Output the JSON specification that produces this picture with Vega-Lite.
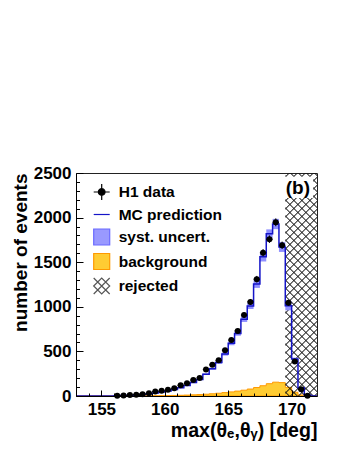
{
  "$schema": "https://vega.github.io/schema/vega-lite/v6.json",
  "width": 241,
  "height": 223,
  "autosize": {"type": "none"},
  "padding": {"left": 76, "top": 173, "right": 36, "bottom": 61},
  "background": "white",
  "config": {
    "view": {"stroke": "#222", "strokeWidth": 1},
    "font": "Liberation Sans",
    "axis": {"labelFont": "Liberation Sans", "titleFont": "Liberation Sans", "grid": false}
  },
  "datasets": {
    "bins": [
      {"lo": 153.0, "hi": 153.5, "c": 153.25, "mc": 0, "bg": 0},
      {"lo": 153.5, "hi": 154.0, "c": 153.75, "mc": 0, "bg": 0},
      {"lo": 154.0, "hi": 154.5, "c": 154.25, "mc": 0, "bg": 0},
      {"lo": 154.5, "hi": 155.0, "c": 154.75, "mc": 0, "bg": 0},
      {"lo": 155.0, "hi": 155.5, "c": 155.25, "mc": 0, "bg": 0},
      {"lo": 155.5, "hi": 156.0, "c": 155.75, "mc": 0, "bg": 0},
      {"lo": 156.0, "hi": 156.5, "c": 156.25, "data": 4, "dlo": 2, "dhi": 6, "mc": 3, "mclo": 2, "mchi": 4, "bg": 0},
      {"lo": 156.5, "hi": 157.0, "c": 156.75, "data": 7, "dlo": 4.4, "dhi": 9.6, "mc": 5, "mclo": 4, "mchi": 6, "bg": 0},
      {"lo": 157.0, "hi": 157.5, "c": 157.25, "data": 11, "dlo": 7.7, "dhi": 14.3, "mc": 8, "mclo": 7, "mchi": 9, "bg": 0},
      {"lo": 157.5, "hi": 158.0, "c": 157.75, "data": 15, "dlo": 11.1, "dhi": 18.9, "mc": 11, "mclo": 10, "mchi": 12, "bg": 0},
      {"lo": 158.0, "hi": 158.5, "c": 158.25, "data": 20, "dlo": 15.5, "dhi": 24.5, "mc": 16, "mclo": 15, "mchi": 17, "bg": 1},
      {"lo": 158.5, "hi": 159.0, "c": 158.75, "data": 32, "dlo": 26.3, "dhi": 37.7, "mc": 23, "mclo": 21, "mchi": 25, "bg": 2},
      {"lo": 159.0, "hi": 159.5, "c": 159.25, "data": 50, "dlo": 42.9, "dhi": 57.1, "mc": 33, "mclo": 31, "mchi": 35, "bg": 3},
      {"lo": 159.5, "hi": 160.0, "c": 159.75, "data": 58, "dlo": 50.4, "dhi": 65.6, "mc": 44, "mclo": 42, "mchi": 46, "bg": 4},
      {"lo": 160.0, "hi": 160.5, "c": 160.25, "data": 70, "dlo": 61.6, "dhi": 78.4, "mc": 57, "mclo": 54, "mchi": 60, "bg": 5},
      {"lo": 160.5, "hi": 161.0, "c": 160.75, "data": 86, "dlo": 76.7, "dhi": 95.3, "mc": 72, "mclo": 69, "mchi": 75, "bg": 6},
      {"lo": 161.0, "hi": 161.5, "c": 161.25, "data": 120, "dlo": 109, "dhi": 131, "mc": 92, "mclo": 88, "mchi": 96, "bg": 8},
      {"lo": 161.5, "hi": 162.0, "c": 161.75, "data": 142, "dlo": 130.1, "dhi": 153.9, "mc": 117, "mclo": 112, "mchi": 122, "bg": 10},
      {"lo": 162.0, "hi": 162.5, "c": 162.25, "data": 179, "dlo": 165.6, "dhi": 192.4, "mc": 150, "mclo": 144, "mchi": 156, "bg": 13},
      {"lo": 162.5, "hi": 163.0, "c": 162.75, "data": 203, "dlo": 188.8, "dhi": 217.2, "mc": 185, "mclo": 178, "mchi": 192, "bg": 16},
      {"lo": 163.0, "hi": 163.5, "c": 163.25, "data": 297, "dlo": 279.8, "dhi": 314.2, "mc": 245, "mclo": 236, "mchi": 254, "bg": 20},
      {"lo": 163.5, "hi": 164.0, "c": 163.75, "data": 349, "dlo": 330.3, "dhi": 367.7, "mc": 305, "mclo": 294, "mchi": 316, "bg": 25},
      {"lo": 164.0, "hi": 164.5, "c": 164.25, "data": 400, "dlo": 380, "dhi": 420, "mc": 375, "mclo": 361, "mchi": 389, "bg": 31},
      {"lo": 164.5, "hi": 165.0, "c": 164.75, "data": 514, "dlo": 491.3, "dhi": 536.7, "mc": 470, "mclo": 453, "mchi": 487, "bg": 38},
      {"lo": 165.0, "hi": 165.5, "c": 165.25, "data": 627, "dlo": 602, "dhi": 652, "mc": 590, "mclo": 569, "mchi": 611, "bg": 46},
      {"lo": 165.5, "hi": 166.0, "c": 165.75, "data": 730, "dlo": 703, "dhi": 757, "mc": 700, "mclo": 676, "mchi": 724, "bg": 55},
      {"lo": 166.0, "hi": 166.5, "c": 166.25, "data": 907, "dlo": 876.9, "dhi": 937.1, "mc": 860, "mclo": 830, "mchi": 890, "bg": 65},
      {"lo": 166.5, "hi": 167.0, "c": 166.75, "data": 1055, "dlo": 1022.5, "dhi": 1087.5, "mc": 1010, "mclo": 975, "mchi": 1045, "bg": 78},
      {"lo": 167.0, "hi": 167.5, "c": 167.25, "data": 1310, "dlo": 1273.8, "dhi": 1346.2, "mc": 1255, "mclo": 1212, "mchi": 1298, "bg": 95},
      {"lo": 167.5, "hi": 168.0, "c": 167.75, "data": 1607, "dlo": 1566.9, "dhi": 1647.1, "mc": 1561, "mclo": 1508, "mchi": 1614, "bg": 115},
      {"lo": 168.0, "hi": 168.5, "c": 168.25, "data": 1758, "dlo": 1716.1, "dhi": 1799.9, "mc": 1818, "mclo": 1768, "mchi": 1868, "bg": 138},
      {"lo": 168.5, "hi": 169.0, "c": 168.75, "data": 1947, "dlo": 1902.9, "dhi": 1991.1, "mc": 1928, "mclo": 1870, "mchi": 1986, "bg": 155},
      {"lo": 169.0, "hi": 169.5, "c": 169.25, "data": 1690, "dlo": 1648.9, "dhi": 1731.1, "mc": 1670, "mclo": 1615, "mchi": 1725, "bg": 150},
      {"lo": 169.5, "hi": 170.0, "c": 169.75, "data": 1045, "dlo": 1012.7, "dhi": 1077.3, "mc": 1011, "mclo": 960, "mchi": 1062, "bg": 97},
      {"lo": 170.0, "hi": 170.5, "c": 170.25, "data": 388, "dlo": 368.3, "dhi": 407.7, "mc": 415, "mclo": 400, "mchi": 430, "bg": 42},
      {"lo": 170.5, "hi": 171.0, "c": 170.75, "data": 75, "dlo": 66.3, "dhi": 83.7, "mc": 93, "mclo": 88, "mchi": 98, "bg": 12},
      {"lo": 171.0, "hi": 171.5, "c": 171.25, "data": 2, "dlo": 0.6, "dhi": 3.4, "mc": 10, "mclo": 8, "mchi": 12, "bg": 3},
      {"lo": 171.5, "hi": 172.0, "c": 171.75, "mc": 0, "bg": 0},
      {"lo": 172.0, "mc": 0, "bg": 0}
    ],
    "rejected": [{"from": 169.5, "to": 172}],
    "annotation": [{"label": "(b)"}],
    "legend": [
      {"entry": "H1 data"},
      {"entry": "MC prediction"},
      {"entry": "syst. uncert."},
      {"entry": "background"},
      {"entry": "rejected"}
    ]
  },
  "resolve": {"axis": {"x": "independent", "y": "independent"}},
  "layer": [
    {
      "data": {"name": "bins"},
      "mark": {"type": "area", "interpolate": "step-after", "fill": "#ffcc33", "stroke": "#ff9900", "strokeWidth": 1, "clip": true},
      "encoding": {
        "x": {"field": "lo", "type": "quantitative", "scale": {"domain": [153, 172], "nice": false, "zero": false}, "axis": null},
        "y": {"field": "bg", "type": "quantitative", "scale": {"domain": [0, 2500], "nice": false, "zero": true}, "axis": null}
      }
    },
    {
      "data": {"name": "rejected"},
      "mark": {"type": "rect", "fill": {"gradient": "linear", "x1": 0, "y1": 1, "x2": 0.1591, "y2": -0.1195, "stops": [
        {"offset": 0.0110, "color": "rgba(0,0,0,0)"}, {"offset": 0.0157, "color": "#222"}, {"offset": 0.0204, "color": "rgba(0,0,0,0)"},
        {"offset": 0.0425, "color": "rgba(0,0,0,0)"}, {"offset": 0.0472, "color": "#222"}, {"offset": 0.0519, "color": "rgba(0,0,0,0)"},
        {"offset": 0.0739, "color": "rgba(0,0,0,0)"}, {"offset": 0.0786, "color": "#222"}, {"offset": 0.0833, "color": "rgba(0,0,0,0)"},
        {"offset": 0.1053, "color": "rgba(0,0,0,0)"}, {"offset": 0.1100, "color": "#222"}, {"offset": 0.1147, "color": "rgba(0,0,0,0)"},
        {"offset": 0.1367, "color": "rgba(0,0,0,0)"}, {"offset": 0.1414, "color": "#222"}, {"offset": 0.1461, "color": "rgba(0,0,0,0)"},
        {"offset": 0.1682, "color": "rgba(0,0,0,0)"}, {"offset": 0.1729, "color": "#222"}, {"offset": 0.1776, "color": "rgba(0,0,0,0)"},
        {"offset": 0.1996, "color": "rgba(0,0,0,0)"}, {"offset": 0.2043, "color": "#222"}, {"offset": 0.2090, "color": "rgba(0,0,0,0)"},
        {"offset": 0.2310, "color": "rgba(0,0,0,0)"}, {"offset": 0.2357, "color": "#222"}, {"offset": 0.2404, "color": "rgba(0,0,0,0)"},
        {"offset": 0.2625, "color": "rgba(0,0,0,0)"}, {"offset": 0.2672, "color": "#222"}, {"offset": 0.2719, "color": "rgba(0,0,0,0)"},
        {"offset": 0.2939, "color": "rgba(0,0,0,0)"}, {"offset": 0.2986, "color": "#222"}, {"offset": 0.3033, "color": "rgba(0,0,0,0)"},
        {"offset": 0.3253, "color": "rgba(0,0,0,0)"}, {"offset": 0.3300, "color": "#222"}, {"offset": 0.3347, "color": "rgba(0,0,0,0)"},
        {"offset": 0.3568, "color": "rgba(0,0,0,0)"}, {"offset": 0.3615, "color": "#222"}, {"offset": 0.3662, "color": "rgba(0,0,0,0)"},
        {"offset": 0.3882, "color": "rgba(0,0,0,0)"}, {"offset": 0.3929, "color": "#222"}, {"offset": 0.3976, "color": "rgba(0,0,0,0)"},
        {"offset": 0.4196, "color": "rgba(0,0,0,0)"}, {"offset": 0.4243, "color": "#222"}, {"offset": 0.4290, "color": "rgba(0,0,0,0)"},
        {"offset": 0.4510, "color": "rgba(0,0,0,0)"}, {"offset": 0.4557, "color": "#222"}, {"offset": 0.4604, "color": "rgba(0,0,0,0)"},
        {"offset": 0.4825, "color": "rgba(0,0,0,0)"}, {"offset": 0.4872, "color": "#222"}, {"offset": 0.4919, "color": "rgba(0,0,0,0)"},
        {"offset": 0.5139, "color": "rgba(0,0,0,0)"}, {"offset": 0.5186, "color": "#222"}, {"offset": 0.5233, "color": "rgba(0,0,0,0)"},
        {"offset": 0.5453, "color": "rgba(0,0,0,0)"}, {"offset": 0.5500, "color": "#222"}, {"offset": 0.5547, "color": "rgba(0,0,0,0)"},
        {"offset": 0.5768, "color": "rgba(0,0,0,0)"}, {"offset": 0.5815, "color": "#222"}, {"offset": 0.5862, "color": "rgba(0,0,0,0)"},
        {"offset": 0.6082, "color": "rgba(0,0,0,0)"}, {"offset": 0.6129, "color": "#222"}, {"offset": 0.6176, "color": "rgba(0,0,0,0)"},
        {"offset": 0.6396, "color": "rgba(0,0,0,0)"}, {"offset": 0.6443, "color": "#222"}, {"offset": 0.6490, "color": "rgba(0,0,0,0)"},
        {"offset": 0.6711, "color": "rgba(0,0,0,0)"}, {"offset": 0.6758, "color": "#222"}, {"offset": 0.6805, "color": "rgba(0,0,0,0)"},
        {"offset": 0.7025, "color": "rgba(0,0,0,0)"}, {"offset": 0.7072, "color": "#222"}, {"offset": 0.7119, "color": "rgba(0,0,0,0)"},
        {"offset": 0.7339, "color": "rgba(0,0,0,0)"}, {"offset": 0.7386, "color": "#222"}, {"offset": 0.7433, "color": "rgba(0,0,0,0)"},
        {"offset": 0.7653, "color": "rgba(0,0,0,0)"}, {"offset": 0.7700, "color": "#222"}, {"offset": 0.7747, "color": "rgba(0,0,0,0)"},
        {"offset": 0.7968, "color": "rgba(0,0,0,0)"}, {"offset": 0.8015, "color": "#222"}, {"offset": 0.8062, "color": "rgba(0,0,0,0)"},
        {"offset": 0.8282, "color": "rgba(0,0,0,0)"}, {"offset": 0.8329, "color": "#222"}, {"offset": 0.8376, "color": "rgba(0,0,0,0)"},
        {"offset": 0.8596, "color": "rgba(0,0,0,0)"}, {"offset": 0.8643, "color": "#222"}, {"offset": 0.8690, "color": "rgba(0,0,0,0)"},
        {"offset": 0.8911, "color": "rgba(0,0,0,0)"}, {"offset": 0.8958, "color": "#222"}, {"offset": 0.9005, "color": "rgba(0,0,0,0)"},
        {"offset": 0.9225, "color": "rgba(0,0,0,0)"}, {"offset": 0.9272, "color": "#222"}, {"offset": 0.9319, "color": "rgba(0,0,0,0)"},
        {"offset": 0.9539, "color": "rgba(0,0,0,0)"}, {"offset": 0.9586, "color": "#222"}, {"offset": 0.9633, "color": "rgba(0,0,0,0)"},
        {"offset": 0.9854, "color": "rgba(0,0,0,0)"}, {"offset": 0.9901, "color": "#222"}, {"offset": 0.9948, "color": "rgba(0,0,0,0)"}
      ]}},
      "encoding": {
        "x": {"field": "from", "type": "quantitative", "axis": {"orient": "bottom", "values": [155, 160, 165, 170], "labels": false, "domain": false, "ticks": true, "tickSize": -6, "tickColor": "black", "tickWidth": 1, "title": null, "zindex": 1}},
        "x2": {"field": "to"},
        "y": {"datum": 0, "type": "quantitative", "axis": {"orient": "left", "values": [0, 500, 1000, 1500, 2000, 2500], "labels": false, "domain": false, "ticks": true, "tickSize": -7, "tickColor": "black", "tickWidth": 1, "title": null, "zindex": 1}},
        "y2": {"datum": 2500}
      }
    },
    {
      "data": {"name": "rejected"},
      "mark": {"type": "rect", "fill": {"gradient": "linear", "x1": 0, "y1": 0, "x2": 0.1591, "y2": 1.1195, "stops": [
        {"offset": 0.0110, "color": "rgba(0,0,0,0)"}, {"offset": 0.0157, "color": "#222"}, {"offset": 0.0204, "color": "rgba(0,0,0,0)"},
        {"offset": 0.0425, "color": "rgba(0,0,0,0)"}, {"offset": 0.0472, "color": "#222"}, {"offset": 0.0519, "color": "rgba(0,0,0,0)"},
        {"offset": 0.0739, "color": "rgba(0,0,0,0)"}, {"offset": 0.0786, "color": "#222"}, {"offset": 0.0833, "color": "rgba(0,0,0,0)"},
        {"offset": 0.1053, "color": "rgba(0,0,0,0)"}, {"offset": 0.1100, "color": "#222"}, {"offset": 0.1147, "color": "rgba(0,0,0,0)"},
        {"offset": 0.1367, "color": "rgba(0,0,0,0)"}, {"offset": 0.1414, "color": "#222"}, {"offset": 0.1461, "color": "rgba(0,0,0,0)"},
        {"offset": 0.1682, "color": "rgba(0,0,0,0)"}, {"offset": 0.1729, "color": "#222"}, {"offset": 0.1776, "color": "rgba(0,0,0,0)"},
        {"offset": 0.1996, "color": "rgba(0,0,0,0)"}, {"offset": 0.2043, "color": "#222"}, {"offset": 0.2090, "color": "rgba(0,0,0,0)"},
        {"offset": 0.2310, "color": "rgba(0,0,0,0)"}, {"offset": 0.2357, "color": "#222"}, {"offset": 0.2404, "color": "rgba(0,0,0,0)"},
        {"offset": 0.2625, "color": "rgba(0,0,0,0)"}, {"offset": 0.2672, "color": "#222"}, {"offset": 0.2719, "color": "rgba(0,0,0,0)"},
        {"offset": 0.2939, "color": "rgba(0,0,0,0)"}, {"offset": 0.2986, "color": "#222"}, {"offset": 0.3033, "color": "rgba(0,0,0,0)"},
        {"offset": 0.3253, "color": "rgba(0,0,0,0)"}, {"offset": 0.3300, "color": "#222"}, {"offset": 0.3347, "color": "rgba(0,0,0,0)"},
        {"offset": 0.3568, "color": "rgba(0,0,0,0)"}, {"offset": 0.3615, "color": "#222"}, {"offset": 0.3662, "color": "rgba(0,0,0,0)"},
        {"offset": 0.3882, "color": "rgba(0,0,0,0)"}, {"offset": 0.3929, "color": "#222"}, {"offset": 0.3976, "color": "rgba(0,0,0,0)"},
        {"offset": 0.4196, "color": "rgba(0,0,0,0)"}, {"offset": 0.4243, "color": "#222"}, {"offset": 0.4290, "color": "rgba(0,0,0,0)"},
        {"offset": 0.4510, "color": "rgba(0,0,0,0)"}, {"offset": 0.4557, "color": "#222"}, {"offset": 0.4604, "color": "rgba(0,0,0,0)"},
        {"offset": 0.4825, "color": "rgba(0,0,0,0)"}, {"offset": 0.4872, "color": "#222"}, {"offset": 0.4919, "color": "rgba(0,0,0,0)"},
        {"offset": 0.5139, "color": "rgba(0,0,0,0)"}, {"offset": 0.5186, "color": "#222"}, {"offset": 0.5233, "color": "rgba(0,0,0,0)"},
        {"offset": 0.5453, "color": "rgba(0,0,0,0)"}, {"offset": 0.5500, "color": "#222"}, {"offset": 0.5547, "color": "rgba(0,0,0,0)"},
        {"offset": 0.5768, "color": "rgba(0,0,0,0)"}, {"offset": 0.5815, "color": "#222"}, {"offset": 0.5862, "color": "rgba(0,0,0,0)"},
        {"offset": 0.6082, "color": "rgba(0,0,0,0)"}, {"offset": 0.6129, "color": "#222"}, {"offset": 0.6176, "color": "rgba(0,0,0,0)"},
        {"offset": 0.6396, "color": "rgba(0,0,0,0)"}, {"offset": 0.6443, "color": "#222"}, {"offset": 0.6490, "color": "rgba(0,0,0,0)"},
        {"offset": 0.6711, "color": "rgba(0,0,0,0)"}, {"offset": 0.6758, "color": "#222"}, {"offset": 0.6805, "color": "rgba(0,0,0,0)"},
        {"offset": 0.7025, "color": "rgba(0,0,0,0)"}, {"offset": 0.7072, "color": "#222"}, {"offset": 0.7119, "color": "rgba(0,0,0,0)"},
        {"offset": 0.7339, "color": "rgba(0,0,0,0)"}, {"offset": 0.7386, "color": "#222"}, {"offset": 0.7433, "color": "rgba(0,0,0,0)"},
        {"offset": 0.7653, "color": "rgba(0,0,0,0)"}, {"offset": 0.7700, "color": "#222"}, {"offset": 0.7747, "color": "rgba(0,0,0,0)"},
        {"offset": 0.7968, "color": "rgba(0,0,0,0)"}, {"offset": 0.8015, "color": "#222"}, {"offset": 0.8062, "color": "rgba(0,0,0,0)"},
        {"offset": 0.8282, "color": "rgba(0,0,0,0)"}, {"offset": 0.8329, "color": "#222"}, {"offset": 0.8376, "color": "rgba(0,0,0,0)"},
        {"offset": 0.8596, "color": "rgba(0,0,0,0)"}, {"offset": 0.8643, "color": "#222"}, {"offset": 0.8690, "color": "rgba(0,0,0,0)"},
        {"offset": 0.8911, "color": "rgba(0,0,0,0)"}, {"offset": 0.8958, "color": "#222"}, {"offset": 0.9005, "color": "rgba(0,0,0,0)"},
        {"offset": 0.9225, "color": "rgba(0,0,0,0)"}, {"offset": 0.9272, "color": "#222"}, {"offset": 0.9319, "color": "rgba(0,0,0,0)"},
        {"offset": 0.9539, "color": "rgba(0,0,0,0)"}, {"offset": 0.9586, "color": "#222"}, {"offset": 0.9633, "color": "rgba(0,0,0,0)"},
        {"offset": 0.9854, "color": "rgba(0,0,0,0)"}, {"offset": 0.9901, "color": "#222"}, {"offset": 0.9948, "color": "rgba(0,0,0,0)"}
      ]}},
      "encoding": {
        "x": {"field": "from", "type": "quantitative", "axis": {"orient": "bottom", "values": [154, 156, 157, 158, 159, 161, 162, 163, 164, 166, 167, 168, 169, 171], "labels": false, "domain": false, "ticks": true, "tickSize": -3, "tickColor": "black", "tickWidth": 1, "title": null, "zindex": 1}},
        "x2": {"field": "to"},
        "y": {"datum": 0, "type": "quantitative", "axis": {"orient": "left", "values": [100, 200, 300, 400, 600, 700, 800, 900, 1100, 1200, 1300, 1400, 1600, 1700, 1800, 1900, 2100, 2200, 2300, 2400], "labels": false, "domain": false, "ticks": true, "tickSize": -3.5, "tickColor": "black", "tickWidth": 1, "title": null, "zindex": 1}},
        "y2": {"datum": 2500}
      }
    },
    {
      "data": {"name": "bins"},
      "transform": [{"filter": "datum.mclo != null"}],
      "mark": {"type": "rect", "fill": "#9090ff", "stroke": null},
      "encoding": {
        "x": {"field": "lo", "type": "quantitative", "axis": null},
        "x2": {"field": "hi"},
        "y": {"field": "mclo", "type": "quantitative", "axis": null},
        "y2": {"field": "mchi"}
      }
    },
    {
      "data": {"name": "bins"},
      "mark": {"type": "line", "interpolate": "step-after", "stroke": "#1414c8", "strokeWidth": 1.5, "clip": true},
      "encoding": {
        "x": {"field": "lo", "type": "quantitative", "axis": null},
        "y": {"field": "mc", "type": "quantitative", "axis": null}
      }
    },
    {
      "data": {"name": "bins"},
      "transform": [{"filter": "datum.data != null"}],
      "mark": {"type": "rule", "stroke": "black", "strokeWidth": 1},
      "encoding": {
        "x": {"field": "c", "type": "quantitative", "axis": null},
        "y": {"field": "dlo", "type": "quantitative", "axis": null},
        "y2": {"field": "dhi"}
      }
    },
    {
      "data": {"name": "bins"},
      "transform": [{"filter": "datum.data != null"}],
      "mark": {"type": "rule", "stroke": "black", "strokeWidth": 1},
      "encoding": {
        "x": {"field": "lo", "type": "quantitative", "axis": null},
        "x2": {"field": "hi"},
        "y": {"field": "data", "type": "quantitative", "axis": null}
      }
    },
    {
      "data": {"name": "bins"},
      "transform": [{"filter": "datum.data != null"}],
      "mark": {"type": "point", "shape": "circle", "filled": true, "fill": "black", "stroke": null, "opacity": 1, "size": 36},
      "encoding": {
        "x": {"field": "c", "type": "quantitative", "axis": {"orient": "bottom", "values": [155, 160, 165, 170], "ticks": false, "domain": true, "domainColor": "black", "domainWidth": 1, "labelPadding": 5, "labelFontSize": 17, "labelFontWeight": "bold", "labelColor": "black", "labelFlush": false, "title": "max(θₑ,θᵧ) [deg]", "titleFontSize": 19.6, "titleFontWeight": "bold", "titleColor": "black", "titleAnchor": "end", "titlePadding": 4, "zindex": 1}},
        "y": {"field": "data", "type": "quantitative", "axis": {"orient": "left", "values": [0, 500, 1000, 1500, 2000, 2500], "format": "d", "ticks": false, "domain": true, "domainColor": "black", "domainWidth": 1, "labelPadding": 5, "labelFontSize": 17, "labelFontWeight": "bold", "labelColor": "black", "labelFlush": false, "title": "number of events", "titleFontSize": 19, "titleFontWeight": "bold", "titleColor": "black", "titleAnchor": "end", "titlePadding": 3, "zindex": 1}}
      }
    },
    {
      "data": {"name": "annotation"},
      "mark": {"type": "rect", "fill": "white", "stroke": null},
      "encoding": {
        "x": {"datum": 169.35, "type": "quantitative", "axis": null},
        "x2": {"datum": 171.7},
        "y": {"datum": 2220, "type": "quantitative", "axis": null},
        "y2": {"datum": 2460}
      }
    },
    {
      "data": {"name": "annotation"},
      "mark": {"type": "text", "font": "Liberation Sans", "fontSize": 19, "fontWeight": "bold", "align": "right", "baseline": "middle", "color": "black"},
      "encoding": {
        "text": {"field": "label"},
        "x": {"datum": 171.45, "type": "quantitative", "axis": null},
        "y": {"datum": 2332, "type": "quantitative", "axis": null}
      }
    },
    {
      "data": {"name": "legend"},
      "mark": {"type": "point", "filled": true, "opacity": 1, "clip": true},
      "encoding": {
        "x": {"datum": 150, "type": "quantitative", "axis": null},
        "y": {"datum": 1000, "type": "quantitative", "axis": null},
        "shape": {"field": "entry", "type": "nominal",
          "scale": {"domain": ["H1 data", "MC prediction", "syst. uncert.", "background", "rejected"],
                    "range": ["M-0.42,0A0.42,0.42,0,1,0,0.42,0A0.42,0.42,0,1,0,-0.42,0ZM-1,0H1M0,-1V1", "M-1,0H1", "square", "square", "M-1,-1L1,1M-1,1L1,-1M-1,0L0,-1L1,0L0,1Z"]},
          "legend": {"title": null, "orient": "none", "legendX": 16.7, "legendY": 10, "padding": 0, "symbolSize": 256, "symbolStrokeWidth": 1.2, "labelFont": "Liberation Sans", "labelFontSize": 15.5, "labelFontWeight": "bold", "labelColor": "black", "labelOffset": 8, "rowPadding": 2.5}},
        "fill": {"field": "entry", "type": "nominal",
          "scale": {"domain": ["H1 data", "MC prediction", "syst. uncert.", "background", "rejected"],
                    "range": ["black", "transparent", "#9999ff", "#ffcc33", "transparent"]},
          "legend": {"title": null, "orient": "none", "legendX": 16.7, "legendY": 10, "padding": 0, "symbolSize": 256, "symbolStrokeWidth": 1.2, "labelFont": "Liberation Sans", "labelFontSize": 15.5, "labelFontWeight": "bold", "labelColor": "black", "labelOffset": 8, "rowPadding": 2.5}},
        "stroke": {"field": "entry", "type": "nominal",
          "scale": {"domain": ["H1 data", "MC prediction", "syst. uncert.", "background", "rejected"],
                    "range": ["black", "#1414c8", "#6a6aff", "#ff9900", "#555555"]},
          "legend": {"title": null, "orient": "none", "legendX": 16.7, "legendY": 10, "padding": 0, "symbolSize": 256, "symbolStrokeWidth": 1.2, "labelFont": "Liberation Sans", "labelFontSize": 15.5, "labelFontWeight": "bold", "labelColor": "black", "labelOffset": 8, "rowPadding": 2.5}}
      }
    }
  ]
}
